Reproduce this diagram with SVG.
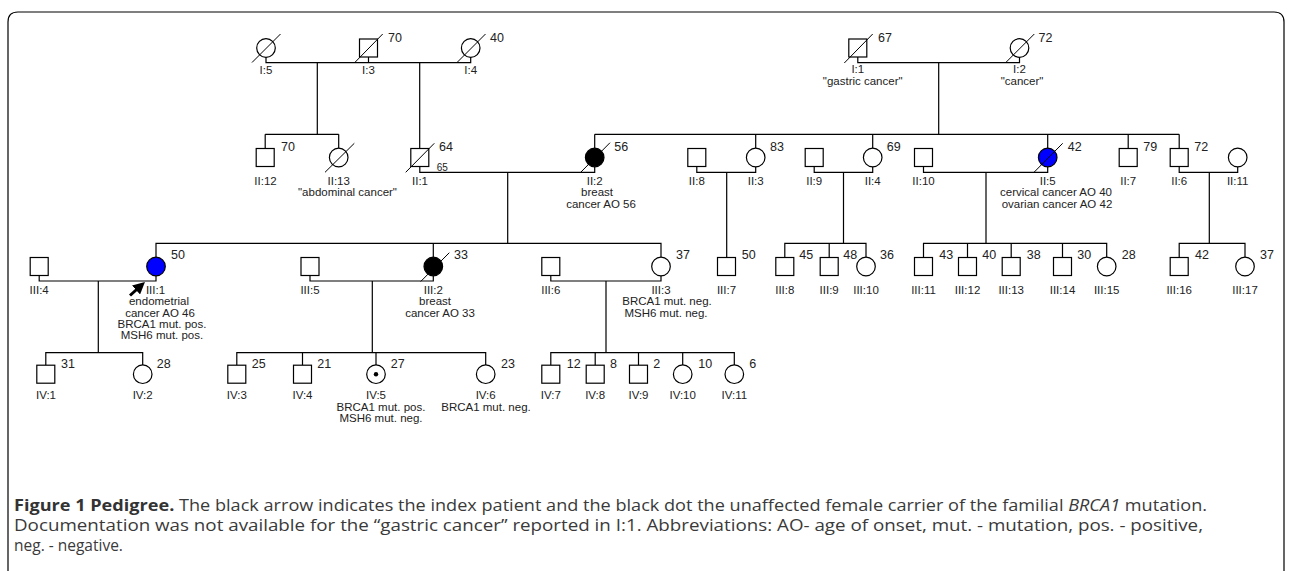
<svg xmlns="http://www.w3.org/2000/svg" width="1292" height="571" viewBox="0 0 1292 571">
<defs>
<style>
.sq,.ci{fill:#fff;stroke:#000;stroke-width:1.2}
.aff{fill:#000}
.blue{fill:#0000ff}
.ln{stroke:#000;stroke-width:1.2;fill:none}
.dx{stroke:#000;stroke-width:1;fill:none}
text{font-family:"Liberation Sans",Arial,Helvetica,sans-serif;fill:#222}
.lbl{font-size:11.5px;text-anchor:middle}
.age{font-size:12.5px}
.sm{font-size:10px}
.cap{font-family:"Open Sans","Liberation Sans",sans-serif;font-size:15.5px;fill:#3a3a3a}
</style>
<marker id="ah" markerWidth="4" markerHeight="4" refX="2" refY="2" orient="auto" markerUnits="strokeWidth">
<path d="M0,0 L4,2 L0,4 z" fill="#000"/>
</marker>
</defs>
<rect width="1292" height="571" fill="#fff"/>
<path class="ln" d="M8,571 V22 Q8,12 18,12 H1274 Q1284,12 1284,22 V571" stroke-width="1.4"/>

<g id="connectors">
<path class="ln" d="M266,57.3 V62.7 H470.7 V57.3 M368.5,57 V62.7 M317.3,62.7 V134.3 M265.2,134.3 H338.7 M265.2,134.3 V148.5 M338.7,134.3 V148.2 M419.7,62.7 V148.5"/>
<path class="ln" d="M857.8,57 V62.7 H1019.5 V57.3 M938.7,62.7 V134.3 M594.7,134.3 H1179.2 M594.7,134.3 V148.2 M755.7,134.3 V148.2 M872.7,134.3 V148.2 M1047.7,134.3 V148.2 M1128.2,134.3 V148.5 M1179.2,134.3 V148.5"/>
<path class="ln" d="M419.8,166.5 V172.3 H594.7 V166.8 M507.7,172.3 V243.3 M696.8,166.5 V172.3 H755.7 V166.8 M726.7,172.3 V257.5 M814.2,166.5 V172.3 H872.7 V166.8 M843.5,172.3 V243.3 M923.5,166.5 V172.3 H1047.7 V166.8 M986,172.3 V243.3 M1179.2,166.5 V172.3 H1237.7 V166.8 M1209.3,172.3 V243.3"/>
<path class="ln" d="M156,257.2 V243.3 H661 V257.2 M433.3,243.3 V257.2 M784.8,257.5 V243.3 H866 V257.2 M829.2,243.3 V257.5 M923.5,257.5 V243.3 H1106.7 V257.2 M967.5,243.3 V257.5 M1011.2,243.3 V257.5 M1062.5,243.3 V257.5 M1179.2,257.5 V243.3 H1245 V257.2"/>
<path class="ln" d="M39.2,275.5 V281 H156 V275.8 M98.3,281 V352.7 M310,275.5 V281 H433.3 V275.8 M372.3,281 V352.7 M550.8,275.5 V281 H661 V275.8 M606,281 V352.7"/>
<path class="ln" d="M45.8,365.2 V352.7 H142.7 V364.9 M236.8,365.2 V352.7 H485.7 V364.9 M302.5,352.7 V365.2 M376,352.7 V364.9 M550.8,365.2 V352.7 H734.3 V364.9 M595.2,352.7 V365.2 M638.5,352.7 V365.2 M682.7,352.7 V364.9"/>
</g>

<!-- Generation I -->
<g id="I5"><circle class="ci" cx="266" cy="48" r="9.3"/><line class="dx" x1="252" y1="62.5" x2="280.5" y2="34"/><text class="lbl" x="266" y="73.5">I:5</text></g>
<g id="I3"><rect class="sq" x="359.5" y="39" width="18" height="18"/><line class="dx" x1="354.3" y1="63" x2="382.7" y2="34"/><text class="age" x="388" y="42">70</text><text class="lbl" x="368.5" y="73.5">I:3</text></g>
<g id="I4"><circle class="ci" cx="470.7" cy="48" r="9.3"/><line class="dx" x1="456.5" y1="63" x2="485.5" y2="34"/><text class="age" x="490" y="42">40</text><text class="lbl" x="470.7" y="73.5">I:4</text></g>
<g id="I1"><rect class="sq" x="848.8" y="39" width="18" height="18"/><line class="dx" x1="844.3" y1="63" x2="872.7" y2="34"/><text class="age" x="878" y="42">67</text><text class="lbl" x="857.8" y="73">I:1</text><text class="lbl" x="862.7" y="85">"gastric cancer"</text></g>
<g id="I2"><circle class="ci" cx="1019.5" cy="48" r="9.3"/><line class="dx" x1="1005.3" y1="63" x2="1034.3" y2="34"/><text class="age" x="1038.5" y="42">72</text><text class="lbl" x="1019.5" y="73">I:2</text><text class="lbl" x="1022" y="85">"cancer"</text></g>

<!-- Generation II -->
<g id="II12"><rect class="sq" x="256.2" y="148.5" width="18" height="18"/><text class="age" x="281" y="151">70</text><text class="lbl" x="265.5" y="185">II:12</text></g>
<g id="II13"><circle class="ci" cx="338.7" cy="157.5" r="9.3"/><line class="dx" x1="325" y1="172.3" x2="354.3" y2="143.3"/><text class="lbl" x="338.7" y="185">II:13</text><text class="lbl" x="347.5" y="196.3">"abdominal cancer"</text></g>
<g id="II1"><rect class="sq" x="410.8" y="148.5" width="18" height="18"/><line class="dx" x1="405.7" y1="172.3" x2="434.3" y2="143.3"/><text class="age" x="439" y="150.7">64</text><text class="sm" x="436.7" y="170.5">65</text><text class="lbl" x="420" y="185">II:1</text></g>
<g id="II2"><circle class="ci aff" cx="594.7" cy="157.5" r="9.3"/><line class="dx" x1="580.7" y1="172.3" x2="610" y2="142.7"/><text class="age" x="614.3" y="150.7">56</text><text class="lbl" x="594.7" y="185">II:2</text><text class="lbl" x="597" y="196.3">breast</text><text class="lbl" x="601" y="207.6">cancer AO 56</text></g>
<g id="II8"><rect class="sq" x="687.8" y="148.5" width="18" height="18"/><text class="lbl" x="696.8" y="185">II:8</text></g>
<g id="II3"><circle class="ci" cx="755.7" cy="157.5" r="9.3"/><text class="age" x="770" y="150.7">83</text><text class="lbl" x="755.7" y="185">II:3</text></g>
<g id="II9"><rect class="sq" x="805.2" y="148.5" width="18" height="18"/><text class="lbl" x="814.2" y="185">II:9</text></g>
<g id="II4"><circle class="ci" cx="872.7" cy="157.5" r="9.3"/><text class="age" x="886.7" y="150.7">69</text><text class="lbl" x="872.7" y="185">II:4</text></g>
<g id="II10"><rect class="sq" x="914.5" y="148.5" width="18" height="18"/><text class="lbl" x="923.5" y="185">II:10</text></g>
<g id="II5"><circle class="ci blue" cx="1047.7" cy="157.5" r="9.3"/><line class="dx" x1="1034" y1="172.3" x2="1062.7" y2="143.3"/><text class="age" x="1067.7" y="150.7">42</text><text class="lbl" x="1047.7" y="185">II:5</text><text class="lbl" x="1056" y="196.3">cervical cancer AO 40</text><text class="lbl" x="1057" y="207.6">ovarian cancer AO 42</text></g>
<g id="II7"><rect class="sq" x="1119.2" y="148.5" width="18" height="18"/><text class="age" x="1143.3" y="150.7">79</text><text class="lbl" x="1128.2" y="185">II:7</text></g>
<g id="II6"><rect class="sq" x="1170.2" y="148.5" width="18" height="18"/><text class="age" x="1194.3" y="150.7">72</text><text class="lbl" x="1179.2" y="185">II:6</text></g>
<g id="II11"><circle class="ci" cx="1237.7" cy="157.5" r="9.3"/><text class="lbl" x="1237.7" y="185">II:11</text></g>

<!-- Generation III -->
<g id="III4"><rect class="sq" x="30.2" y="257.5" width="18" height="18"/><text class="lbl" x="39.2" y="294">III:4</text></g>
<g id="III1"><circle class="ci blue" cx="156" cy="266.5" r="9.3"/><text class="age" x="171" y="259.3">50</text><line x1="130" y1="295.5" x2="140.5" y2="286" stroke="#000" stroke-width="3" marker-end="url(#ah)"/><text class="lbl" x="155.5" y="294">III:1</text><text class="lbl" x="159" y="305.3">endometrial</text><text class="lbl" x="160" y="316.6">cancer AO 46</text><text class="lbl" x="162" y="327.9">BRCA1 mut. pos.</text><text class="lbl" x="162" y="339.2">MSH6 mut. pos.</text></g>
<g id="III5"><rect class="sq" x="301" y="257.5" width="18" height="18"/><text class="lbl" x="310" y="294">III:5</text></g>
<g id="III2"><circle class="ci aff" cx="433.3" cy="266.5" r="9.3"/><line class="dx" x1="420.7" y1="281.5" x2="449.3" y2="252.7"/><text class="age" x="454" y="259.3">33</text><text class="lbl" x="433.3" y="294">III:2</text><text class="lbl" x="435" y="305.3">breast</text><text class="lbl" x="440" y="316.6">cancer AO 33</text></g>
<g id="III6"><rect class="sq" x="541.8" y="257.5" width="18" height="18"/><text class="lbl" x="550.8" y="294">III:6</text></g>
<g id="III3"><circle class="ci" cx="661" cy="266.5" r="9.3"/><text class="age" x="676" y="259.3">37</text><text class="lbl" x="661" y="294">III:3</text><text class="lbl" x="667" y="305.3">BRCA1 mut. neg.</text><text class="lbl" x="666" y="316.6">MSH6 mut. neg.</text></g>
<g id="III7"><rect class="sq" x="717.5" y="257.5" width="18" height="18"/><text class="age" x="741.7" y="259.3">50</text><text class="lbl" x="726.5" y="294">III:7</text></g>
<g id="III8"><rect class="sq" x="775.8" y="257.5" width="18" height="18"/><text class="age" x="799.3" y="259.3">45</text><text class="lbl" x="784.8" y="294">III:8</text></g>
<g id="III9"><rect class="sq" x="820.2" y="257.5" width="18" height="18"/><text class="age" x="843.3" y="259.3">48</text><text class="lbl" x="829.2" y="294">III:9</text></g>
<g id="III10"><circle class="ci" cx="866" cy="266.5" r="9.3"/><text class="age" x="880" y="259.3">36</text><text class="lbl" x="866" y="294">III:10</text></g>
<g id="III11"><rect class="sq" x="914.5" y="257.5" width="18" height="18"/><text class="age" x="939.3" y="259.3">43</text><text class="lbl" x="923.5" y="294">III:11</text></g>
<g id="III12"><rect class="sq" x="958.5" y="257.5" width="18" height="18"/><text class="age" x="982.3" y="259.3">40</text><text class="lbl" x="967.5" y="294">III:12</text></g>
<g id="III13"><rect class="sq" x="1002.2" y="257.5" width="18" height="18"/><text class="age" x="1026.7" y="259.3">38</text><text class="lbl" x="1011.2" y="294">III:13</text></g>
<g id="III14"><rect class="sq" x="1053.5" y="257.5" width="18" height="18"/><text class="age" x="1077.3" y="259.3">30</text><text class="lbl" x="1062.5" y="294">III:14</text></g>
<g id="III15"><circle class="ci" cx="1106.7" cy="266.5" r="9.3"/><text class="age" x="1121.7" y="259.3">28</text><text class="lbl" x="1106.7" y="294">III:15</text></g>
<g id="III16"><rect class="sq" x="1170.2" y="257.5" width="18" height="18"/><text class="age" x="1195" y="259.3">42</text><text class="lbl" x="1179.2" y="294">III:16</text></g>
<g id="III17"><circle class="ci" cx="1245" cy="266.5" r="9.3"/><text class="age" x="1260" y="259.3">37</text><text class="lbl" x="1245" y="294">III:17</text></g>

<!-- Generation IV -->
<g id="IV1"><rect class="sq" x="36.8" y="365.2" width="18" height="18"/><text class="age" x="61" y="367.7">31</text><text class="lbl" x="46" y="399.3">IV:1</text></g>
<g id="IV2"><circle class="ci" cx="142.7" cy="374.2" r="9.3"/><text class="age" x="156.7" y="367.7">28</text><text class="lbl" x="142.7" y="399.3">IV:2</text></g>
<g id="IV3"><rect class="sq" x="227.8" y="365.2" width="18" height="18"/><text class="age" x="251.7" y="367.7">25</text><text class="lbl" x="236.8" y="399.3">IV:3</text></g>
<g id="IV4"><rect class="sq" x="293.5" y="365.2" width="18" height="18"/><text class="age" x="317.3" y="367.7">21</text><text class="lbl" x="302.5" y="399.3">IV:4</text></g>
<g id="IV5"><circle class="ci" cx="376" cy="374.2" r="9.3"/><circle cx="376" cy="374.2" r="2.2" fill="#000"/><text class="age" x="390.7" y="367.7">27</text><text class="lbl" x="376" y="399.3">IV:5</text><text class="lbl" x="381" y="410.6">BRCA1 mut. pos.</text><text class="lbl" x="381" y="421.9">MSH6 mut. neg.</text></g>
<g id="IV6"><circle class="ci" cx="485.7" cy="374.2" r="9.3"/><text class="age" x="501" y="367.7">23</text><text class="lbl" x="485.7" y="399.3">IV:6</text><text class="lbl" x="486" y="410.6">BRCA1 mut. neg.</text></g>
<g id="IV7"><rect class="sq" x="541.8" y="365.2" width="18" height="18"/><text class="age" x="566.7" y="367.7">12</text><text class="lbl" x="550.8" y="399.3">IV:7</text></g>
<g id="IV8"><rect class="sq" x="586.2" y="365.2" width="18" height="18"/><text class="age" x="610" y="367.7">8</text><text class="lbl" x="595.2" y="399.3">IV:8</text></g>
<g id="IV9"><rect class="sq" x="629.5" y="365.2" width="18" height="18"/><text class="age" x="653.3" y="367.7">2</text><text class="lbl" x="638.5" y="399.3">IV:9</text></g>
<g id="IV10"><circle class="ci" cx="682.7" cy="374.2" r="9.3"/><text class="age" x="698.3" y="367.7">10</text><text class="lbl" x="682.7" y="399.3">IV:10</text></g>
<g id="IV11"><circle class="ci" cx="734.3" cy="374.2" r="9.3"/><text class="age" x="749.3" y="367.7">6</text><text class="lbl" x="734.3" y="399.3">IV:11</text></g>

<g id="caption">
<text class="cap" x="14" y="511" textLength="1193" lengthAdjust="spacingAndGlyphs"><tspan font-weight="bold" fill="#333">Figure 1 Pedigree.</tspan> The black arrow indicates the index patient and the black dot the unaffected female carrier of the familial <tspan font-style="italic">BRCA1</tspan> mutation.</text>
<text class="cap" x="14" y="531" textLength="1189" lengthAdjust="spacingAndGlyphs">Documentation was not available for the “gastric cancer” reported in I:1. Abbreviations: AO- age of onset, mut. - mutation, pos. - positive,</text>
<text class="cap" x="14" y="551">neg. - negative.</text>
</g>
</svg>
